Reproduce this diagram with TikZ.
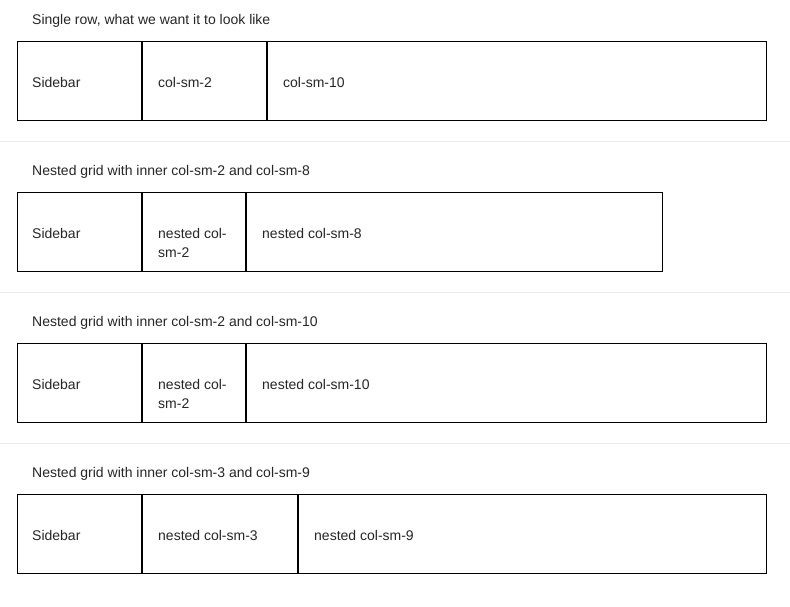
\documentclass[tikz,border=0pt]{standalone}
\usepackage{fontspec}
\setmainfont{Liberation Sans}
\begin{document}
\begin{tikzpicture}[x=1pt,y=-1pt,
  lbl/.style={anchor=west,inner sep=0pt,font=\fontsize{14}{20}\selectfont,text=black!85},
  boxst/.style={draw=black,line width=1pt},
  divst/.style={draw=black,line width=2pt},
  sep/.style={draw=black!8,line width=1pt}]
\useasboundingbox (0,0) rectangle (790,606);
\fill[white] (0,0) rectangle (790,606);
% row 1
\node[lbl] (t1) at (32,21) {Single row, what we want it to look like};
\draw[boxst] (17,41) rectangle (766,120);
\draw[divst] (142,41) -- (142,120); \draw[divst] (267,41) -- (267,120);
\node[lbl] (a1) at (32,82) {Sidebar};
\node[lbl] (b1) at (158,82) {col-sm-2};
\node[lbl] (c1) at (283,82) {col-sm-10};
\draw[sep] (0,141) -- (790,141);
% row 2
\node[lbl] (t2) at (32,172) {Nested grid with inner col-sm-2 and col-sm-8};
\draw[boxst] (17,192) rectangle (662,271);
\draw[divst] (142,192) -- (142,271); \draw[divst] (246,192) -- (246,271);
\node[lbl] (a2) at (32,233) {Sidebar};
\node[lbl] (b2) at (158,233) {nested col-};
\node[lbl] (b2b) at (158,253) {sm-2};
\node[lbl] (c2) at (262,233) {nested col-sm-8};
\draw[sep] (0,292) -- (790,292);
% row 3
\node[lbl] (t3) at (32,323) {Nested grid with inner col-sm-2 and col-sm-10};
\draw[boxst] (17,343) rectangle (766,422);
\draw[divst] (142,343) -- (142,422); \draw[divst] (246,343) -- (246,422);
\node[lbl] (a3) at (32,384) {Sidebar};
\node[lbl] (b3) at (158,384) {nested col-};
\node[lbl] (b3b) at (158,404) {sm-2};
\node[lbl] (c3) at (262,384) {nested col-sm-10};
\draw[sep] (0,443) -- (790,443);
% row 4
\node[lbl] (t4) at (32,474) {Nested grid with inner col-sm-3 and col-sm-9};
\draw[boxst] (17,494) rectangle (766,573);
\draw[divst] (142,494) -- (142,573); \draw[divst] (298,494) -- (298,573);
\node[lbl] (a4) at (32,535) {Sidebar};
\node[lbl] (b4) at (158,535) {nested col-sm-3};
\node[lbl] (c4) at (314,535) {nested col-sm-9};
\end{tikzpicture}
\end{document}
